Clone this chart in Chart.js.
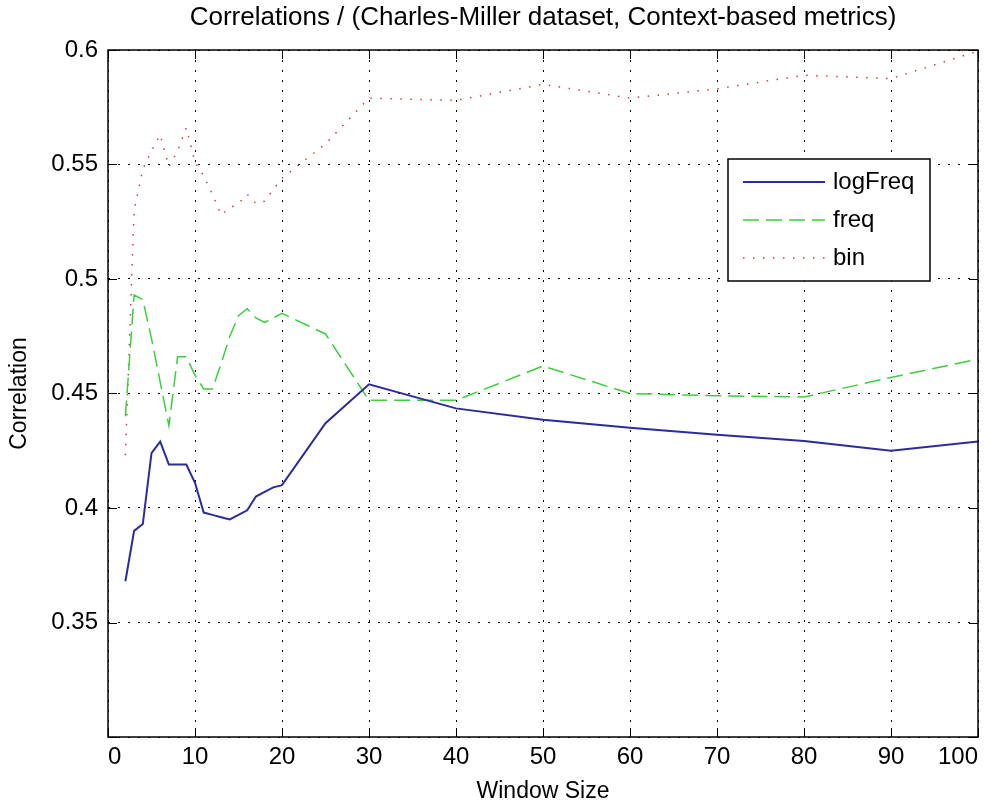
<!DOCTYPE html>
<html>
<head>
<meta charset="utf-8">
<title>Correlations</title>
<script src="https://cdn.jsdelivr.net/npm/chart.js@4.4.1/dist/chart.umd.min.js"></script>
<style>
  body { margin: 0; background: #fff; }
  #caixa { width: 1003px; height: 807px; }
</style>
</head>
<body>
<div id="caixa"><canvas id="graficoCorrelacao" width="1003" height="807"></canvas></div>
<script>
// Tamanhos de janela (eixo x)
const janelas = [2, 3, 4, 5, 6, 7, 8, 9, 10, 11, 12, 13, 14, 15, 16, 17, 18, 19, 20, 25, 30, 40, 50, 60, 70, 80, 90, 100];

// Correlações
const logFreq = [0.368, 0.390, 0.393, 0.424, 0.429, 0.419, 0.419, 0.419, 0.411, 0.398, 0.397, 0.396, 0.395, 0.397,
  0.399, 0.405, 0.407, 0.409, 0.410, 0.437, 0.454, 0.4435, 0.4385, 0.435, 0.432, 0.4293, 0.425, 0.429];
const freq = [0.440, 0.493, 0.491, 0.474, 0.455, 0.436, 0.466, 0.466, 0.458, 0.452, 0.452, 0.463, 0.475, 0.484,
  0.487, 0.483, 0.481, 0.483, 0.485, 0.476, 0.447, 0.447, 0.462, 0.450, 0.449, 0.4485, 0.457, 0.465];
const bin = [0.423, 0.530, 0.548, 0.556, 0.563, 0.549, 0.556, 0.566, 0.551, 0.545, 0.537, 0.528, 0.531, 0.533,
  0.537, 0.533, 0.534, 0.539, 0.544, 0.559, 0.579, 0.578, 0.585, 0.579, 0.583, 0.589, 0.5875, 0.5995];

// Marcas dos eixos
const ticksX = [0, 10, 20, 30, 40, 50, 60, 70, 80, 90, 100];
const ticksY = [0.3, 0.35, 0.4, 0.45, 0.5, 0.55, 0.6];
const rotulosY = ['', '0.35', '0.4', '0.45', '0.5', '0.55', '0.6'];

const titulo = 'Correlations / (Charles-Miller dataset, Context-based metrics)';
const fonte = "'Liberation Sans', Arial, sans-serif";

function pontos(valores) {
  return janelas.map((x, i) => ({ x: x, y: valores[i] }));
}

// Caixa do eixo, marcas internas, titulo e legenda no estilo MATLAB
const estiloMatlab = {
  id: 'estiloMatlab',
  afterDraw(chart) {
    const ctx = chart.ctx;
    const area = chart.chartArea;
    const sx = chart.scales.x;
    const sy = chart.scales.y;
    ctx.save();
    ctx.strokeStyle = '#000';
    ctx.lineWidth = 1;
    ctx.setLineDash([]);
    ticksX.forEach(v => {
      const px = Math.round(sx.getPixelForValue(v)) + 0.5;
      ctx.beginPath();
      ctx.moveTo(px, area.bottom); ctx.lineTo(px, area.bottom - 9);
      ctx.moveTo(px, area.top); ctx.lineTo(px, area.top + 9);
      ctx.stroke();
    });
    ticksY.forEach(v => {
      const py = Math.round(sy.getPixelForValue(v)) + 0.5;
      ctx.beginPath();
      ctx.moveTo(area.left, py); ctx.lineTo(area.left + 9, py);
      ctx.moveTo(area.right, py); ctx.lineTo(area.right - 9, py);
      ctx.stroke();
    });
    ctx.lineWidth = 1.5;
    ctx.strokeRect(area.left, area.top, area.right - area.left, area.bottom - area.top);

    // titulo centrado sobre a area do grafico
    ctx.fillStyle = '#000';
    ctx.font = '26px ' + fonte;
    ctx.textAlign = 'center';
    ctx.textBaseline = 'middle';
    ctx.fillText(titulo, (area.left + area.right) / 2, 18);

    // legenda
    const lx = area.right - 250, ly = area.top + 109, lw = 202, lh = 122;
    ctx.fillStyle = '#fff';
    ctx.fillRect(lx, ly, lw, lh);
    ctx.lineWidth = 1.5;
    ctx.strokeRect(lx, ly, lw, lh);
    ctx.font = '24px ' + fonte;
    ctx.textAlign = 'left';
    chart.data.datasets.forEach((ds, i) => {
      const yy = ly + 23 + i * 38;
      ctx.beginPath();
      ctx.strokeStyle = ds.borderColor;
      ctx.lineWidth = ds.borderWidth;
      ctx.setLineDash(ds.borderDash || []);
      ctx.moveTo(lx + 15, yy); ctx.lineTo(lx + 97, yy);
      ctx.stroke();
      ctx.setLineDash([]);
      ctx.fillStyle = '#000';
      ctx.fillText(ds.label, lx + 105, yy);
    });
    ctx.restore();
  }
};

const ctx = document.getElementById('graficoCorrelacao').getContext('2d');
new Chart(ctx, {
  type: 'line',
  data: {
    datasets: [
      { label: 'logFreq', data: pontos(logFreq), borderColor: '#2b2b9e', borderWidth: 2, pointRadius: 0, tension: 0, fill: false },
      { label: 'freq', data: pontos(freq), borderColor: '#3ccf3c', borderWidth: 1.5, borderDash: [16, 7], pointRadius: 0, tension: 0, fill: false },
      { label: 'bin', data: pontos(bin), borderColor: '#d23c3c', borderWidth: 1.5, borderDash: [1.5, 8.5], pointRadius: 0, tension: 0, fill: false }
    ]
  },
  options: {
    responsive: false,
    animation: false,
    layout: { padding: { left: 0, right: 25, top: 50, bottom: 0 } },
    plugins: {
      legend: { display: false },
      tooltip: { enabled: false },
      title: { display: false }
    },
    scales: {
      x: {
        type: 'linear',
        min: 0,
        max: 100,
        afterBuildTicks: s => { s.ticks = ticksX.map(v => ({ value: v })); },
        afterFit: s => { s.height = 70; },
        grid: { color: '#000', lineWidth: 1, drawTicks: false },
        border: { display: false, dash: [2, 8] },
        ticks: { color: '#000', padding: 6, maxRotation: 0, align: 'inner', font: { family: fonte, size: 24 } },
        title: { display: true, text: 'Window Size', color: '#000', font: { family: fonte, size: 23 }, padding: { top: 0, bottom: 2 } }
      },
      y: {
        type: 'linear',
        min: 0.3,
        max: 0.6,
        afterBuildTicks: s => { s.ticks = ticksY.map(v => ({ value: v })); },
        afterFit: s => { s.width = 108; },
        grid: { color: '#000', lineWidth: 1, drawTicks: false },
        border: { display: false, dash: [2, 8] },
        ticks: {
          color: '#000', padding: 10, font: { family: fonte, size: 24 },
          callback: (v, i) => rotulosY[i]
        },
        title: { display: true, text: 'Correlation', color: '#000', font: { family: fonte, size: 23 }, padding: { top: 6, bottom: 0 } }
      }
    }
  },
  plugins: [estiloMatlab]
});
</script>
</body>
</html>
